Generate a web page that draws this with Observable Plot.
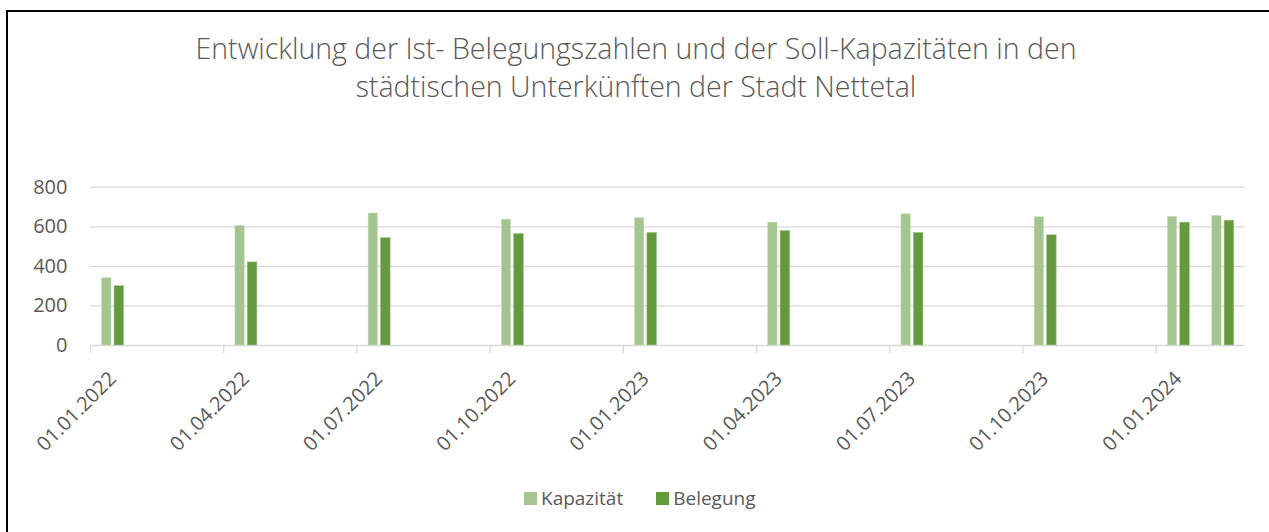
<!DOCTYPE html>
<html>
<head>
<meta charset="utf-8">
<script src="https://cdn.jsdelivr.net/npm/d3@7"></script>
<script src="https://cdn.jsdelivr.net/npm/@observablehq/plot@0.6"></script>
<style>
  html, body { margin: 0; padding: 0; background: #fff; overflow: hidden; }
  #wrap { position: relative; width: 1269px; height: 532px; overflow: hidden; background: #fff; font-family: "Open Sans", sans-serif; color: #595959; }
  #frame { position: absolute; left: 0; top: 0; }
  #title { position: absolute; left: 0; width: 1272px; top: 29px; text-align: center; font-size: 28.5px; font-weight: 300; line-height: 38px; color: #595959; }
  #chart { position: absolute; left: 0; top: 160px; width: 1269px; height: 330px; overflow: hidden; }
  #legend { position: absolute; top: 485px; left: 524px; font-size: 19px; display: flex; align-items: center; white-space: nowrap; }
  .sw { display: inline-block; width: 13px; height: 13px; margin-right: 4px; }
  .item { display: inline-flex; align-items: center; margin-right: 33px; }
</style>
</head>
<body>
<div id="wrap">
  <svg id="frame" width="1269" height="532"><path d="M7 532V11H1269" fill="none" stroke="#000" stroke-width="2"/></svg>
  <div id="title">Entwicklung der Ist- Belegungszahlen und der Soll-Kapazitäten in den<br>städtischen Unterkünften der Stadt Nettetal</div>
  <div id="chart"></div>
  <div id="legend"></div>
</div>
<script>
// ---- data ----
const dates = ["01.01.2022","01.04.2022","01.07.2022","01.10.2022","01.01.2023","01.04.2023","01.07.2023","01.10.2023","01.01.2024","01.02.2024"];
const kapazitaet = [340, 604, 667, 636, 643, 621, 663, 648, 650, 655];
const belegung   = [300, 420, 543, 564, 569, 579, 569, 557, 621, 631];
const tickLabels = ["01.01.2022","01.04.2022","01.07.2022","01.10.2022","01.01.2023","01.04.2023","01.07.2023","01.10.2023","01.01.2024"];
const yTicks = [0, 200, 400, 600, 800];
const seriesNames = ["Kapazität", "Belegung"];
const seriesColors = ["#a4c58f", "#64993e"];

// month index relative to Jan 2022 (Excel date axis, base unit: months)
const monthIndex = s => { const [d, m, y] = s.split(".").map(Number); return (y - 2022) * 12 + (m - 1); };
const nMonths = 26;

const rowsK = dates.map((d, i) => ({i: monthIndex(d), v: kapazitaet[i]}));
const rowsB = dates.map((d, i) => ({i: monthIndex(d), v: belegung[i]}));
const tickIdx = tickLabels.map(monthIndex);
const labelMap = new Map(tickLabels.map(t => [monthIndex(t) + 0.5, t]));

const W = 1269, H = 330;
const chart = Plot.plot({
  width: W, height: H,
  marginLeft: 90, marginRight: W - 1244.5, marginTop: 26.7, marginBottom: 145,
  style: {fontFamily: "'Open Sans', sans-serif", fontSize: "20px", color: "#595959", background: "transparent"},
  x: {type: "linear", domain: [0, nMonths], axis: null},
  y: {domain: [0, 800], axis: null},
  marks: [
    Plot.ruleY(yTicks, {stroke: "#d9d9d9", strokeWidth: 1.3}),
    Plot.axisY({ticks: yTicks, tickSize: 0, tickPadding: 23, fill: "#595959", label: null, fontSize: 20}),
    Plot.axisX({ticks: tickIdx, tickSize: 8, stroke: "#d9d9d9", strokeWidth: 1.3, fill: "none", label: null}),
    Plot.axisX({ticks: [...labelMap.keys()], tickSize: 0, tickPadding: 30, tickRotate: -45, tickFormat: v => labelMap.get(v), fill: "#595959", label: null, fontSize: 20}),
    Plot.rect(rowsK, {x1: "i", x2: d => d.i + 1, y1: 0, y2: "v", fill: seriesColors[0], insetLeft: 11.7, insetRight: 23.4, stroke: "#c8dcbb", strokeWidth: 0.6}),
    Plot.rect(rowsB, {x1: "i", x2: d => d.i + 1, y1: 0, y2: "v", fill: seriesColors[1], insetLeft: 24, insetRight: 10.7, stroke: "#a9c996", strokeWidth: 0.6})
  ]
});
document.getElementById("chart").appendChild(chart);

const legend = document.getElementById("legend");
seriesNames.forEach((n, k) => {
  const it = document.createElement("span");
  it.className = "item";
  it.innerHTML = `<span class="sw" style="background:${seriesColors[k]}"></span>${n}`;
  legend.appendChild(it);
});
</script>
</body>
</html>
